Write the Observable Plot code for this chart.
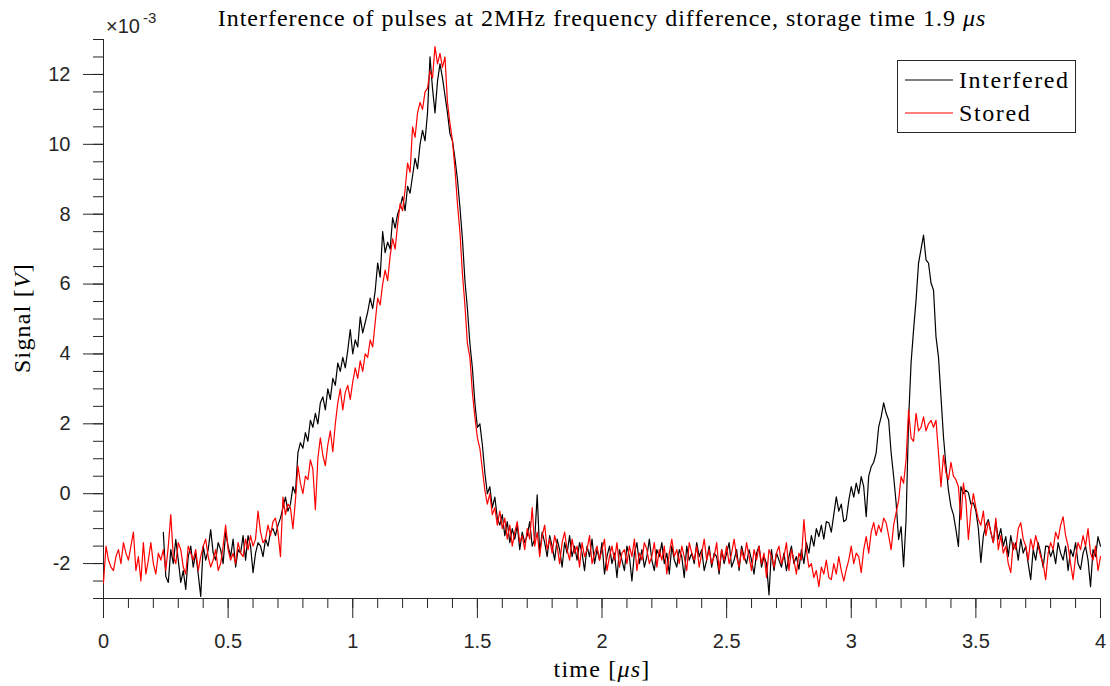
<!DOCTYPE html>
<html>
<head>
<meta charset="utf-8">
<script src="https://cdn.jsdelivr.net/npm/d3@7"></script>
<script src="https://cdn.jsdelivr.net/npm/@observablehq/plot@0.6"></script>
<style>
  body { margin: 0; background: #fff; }
  #chart { width: 1110px; height: 686px; }
</style>
</head>
<body>
<div id="chart"></div>
<script>
// ---- chart data (signal in units of 1e-3 V, time in microseconds) ----
const titleText = "Interference of pulses at 2MHz frequency difference, storage time 1.9 ";
const seriesNames = ["Interfered", "Stored"];
const seriesColors = ["#000000", "#ff0000"];
const sampleStep = 0.01;
const interferedStart = 0.24;
const storedStart = 0.0;

const xMajorTicks = [0, 0.5, 1, 1.5, 2, 2.5, 3, 3.5, 4];
const xTickLabels = ["0", "0.5", "1", "1.5", "2", "2.5", "3", "3.5", "4"];
const yMajorTicks = [-2, 0, 2, 4, 6, 8, 10, 12];
const yTickLabels = ["-2", "0", "2", "4", "6", "8", "10", "12"];

const interfered = [
  -1.11, -2.37, -2.54, -1.6, -2.0, -1.31,
  -1.9, -2.54, -2.2, -2.74, -1.8, -1.5, -2.1, -1.7, -2.3, -2.94,
  -1.5, -1.9, -1.6, -1.03, -1.7, -1.9, -1.4, -1.6, -2.0, -1.1,
  -1.5, -1.8, -1.3, -2.1, -1.6, -1.7, -1.2, -1.9, -1.2, -1.5,
  -2.26, -1.7, -1.4, -1.5, -1.8, -1.3, -1.5, -1.1, -1.0, -1.2,
  -0.9, -0.7, -0.4, -0.1, -0.5, -0.3, 0.2, 0.0, 1.17, 1.46,
  1.3, 1.75, 1.5, 2.1, 1.9, 2.3, 2.0, 2.6, 2.77, 2.4,
  3.0, 2.7, 3.3, 3.1, 3.74, 3.5, 3.9, 3.6, 4.1, 4.7,
  4.0, 4.4, 4.2, 5.06, 4.6, 4.9, 5.2, 5.6, 5.3, 5.8,
  6.6, 6.2, 7.5, 6.9, 7.2, 7.0, 7.9, 7.6, 8.0, 8.2,
  8.5, 8.1, 8.8, 8.6, 9.1, 9.6, 9.3, 10.0, 10.4, 10.1,
  10.9, 12.5, 11.6, 10.9, 11.8, 12.3, 11.9, 11.4, 10.9, 10.3,
  10.1, 9.6, 9.0, 8.2, 7.3, 6.1, 5.3, 4.3, 3.6, 2.6,
  1.9, 2.0, 1.4, 0.6, 0.0, 0.2, -0.4, -0.1, -0.7, -0.9,
  -0.6, -1.2, -0.8, -1.4, -1.0, -1.3, -0.9, -1.6, -1.1, -1.4,
  -1.2, -0.8, -1.5, -1.3, -0.03, -1.7, -1.1, -1.4, -1.8, -1.2,
  -1.5, -1.9, -1.3, -1.6, -2.1, -1.4, -1.7, -1.2, -1.8, -1.5,
  -1.9, -1.4, -1.7, -2.2, -1.5, -1.8, -1.3, -2.0, -1.6, -1.9,
  -1.4, -2.3, -1.8, -1.5, -2.0, -1.7, -2.4, -1.6, -1.9, -2.2,
  -1.5, -1.8, -2.5, -1.7, -1.4, -2.0, -1.6, -2.1, -1.8, -1.3,
  -1.9, -2.2, -1.6, -1.8, -1.4, -2.0, -1.7, -2.3, -1.5, -1.9,
  -2.1, -1.6, -1.8, -2.4, -1.5, -1.9, -1.7, -2.0, -1.4, -1.8,
  -1.6, -2.2, -1.9, -1.5, -2.1, -1.7, -1.8, -2.3, -1.6, -2.0,
  -1.7, -1.4, -2.1, -1.9, -1.6, -2.2, -1.5, -1.8, -2.0, -1.6,
  -1.9, -2.3, -1.7, -1.5, -2.1, -1.8, -2.0, -2.9, -1.6, -2.2,
  -1.69, -1.9, -2.1, -1.7, -2.2, -1.8, -1.5, -2.0, -1.8, -2.17,
  -1.6, -2.0, -1.4, -1.7, -1.2, -1.5, -1.0, -1.23, -0.9, -1.3,
  -0.8, -0.83, -1.1, -0.6, -0.09, -0.5, -0.3, -0.8, -0.74, -0.2,
  0.2, -0.1, 0.3, 0.0, 0.49, 0.2, -0.66, 0.5, 0.77, 0.9,
  1.17, 1.91, 2.2, 2.6, 2.3, 2.11, 1.17, 0.5, -0.26, -1.31,
  -0.94, -2.09, -0.74, 2.11, 3.74, 4.69, 5.54, 6.6, 7.0, 7.4,
  6.69, 6.6, 6.03, 5.83, 4.49, 3.91, 2.77, 1.63, 0.8, 0.1,
  -0.37, -0.6, -1.03, -1.51, 0.2, 0.0, 0.1, 0.03, -0.3, -0.26,
  -0.5, -1.0, -1.97, -1.2, -0.9, -0.74, -1.1, -1.4, -0.8, -1.3,
  -1.0, -1.5, -1.23, -1.8, -1.2, -1.6, -1.4, -1.9, -1.3, -1.7,
  -1.5, -2.0, -2.46, -1.6, -1.9, -1.4, -1.7, -2.1, -1.5, -1.51,
  -1.8, -1.6, -2.0, -1.4, -1.7, -1.9, -1.5, -2.2, -1.6, -1.8,
  -1.4, -2.0, -2.17, -1.7, -1.5, -1.9, -2.66, -1.6, -1.8, -1.23,
  -1.5
];

const stored = [
  -2.55, -1.5, -1.9, -2.1, -2.2, -1.8, -1.6, -2.0, -1.4, -1.7,
  -1.9, -1.5, -1.1, -2.2, -1.8, -2.5, -1.4, -2.3, -1.9, -1.4,
  -2.0, -2.3, -1.7, -1.9, -1.6, -2.2, -1.5, -0.6, -1.8, -2.0,
  -1.4, -1.6, -2.1, -2.3, -1.5, -1.7, -1.9, -1.6, -2.2, -1.8,
  -1.5, -1.3, -1.8, -2.1, -1.9, -1.6, -2.2, -2.0, -1.5, -0.9,
  -1.6, -1.9, -1.7, -2.0, -1.4, -1.7, -1.8, -1.3, -1.6, -1.2,
  -1.5, -1.3, -0.5, -1.1, -1.4, -1.3, -0.9, -1.2, -0.8, -0.7,
  -1.1, -1.8, -0.1, -0.6, -0.3, -0.4, -1.0, -0.2, 0.8, 0.3,
  0.0, 0.5, 0.4, 0.97, 0.7, -0.46, 1.0, 1.6, 1.1, 0.8,
  1.4, 1.8, 1.2, 2.0, 2.6, 3.0, 2.4, 2.9, 3.1, 2.7,
  3.2, 3.6, 3.3, 3.8, 3.5, 4.0, 3.9, 4.4, 4.2, 4.9,
  5.6, 5.4, 6.0, 6.4, 6.1, 6.8, 7.3, 7.0, 7.7, 8.3,
  8.1, 8.7, 9.46, 9.2, 10.5, 10.2, 10.9, 11.2, 11.0, 11.5,
  11.6, 12.1, 11.9, 12.8, 12.3, 12.6, 12.2, 12.5, 11.2, 10.6,
  10.1, 9.3, 8.3, 7.5, 6.3, 5.4, 4.3, 3.9, 2.9, 2.2,
  1.6, 1.3, 0.7, 0.1, -0.3, 0.0, -0.6, -0.4, -0.9, -0.5,
  -1.0, -0.7, -1.3, -0.9, -1.5, -1.1, -0.8, -1.4, -1.2, -1.6,
  -1.0, -1.3, -0.4, -1.5, -1.1, -1.8, -1.2, -0.9, -1.6, -1.3,
  -1.7, -1.2, -1.5, -2.0, -1.4, -1.1, -1.6, -1.9, -1.3, -1.7,
  -1.5, -2.1, -1.4, -1.8, -1.6, -1.2, -2.0, -1.7, -1.5, -1.9,
  -1.6, -1.3, -2.2, -1.8, -1.5, -1.9, -1.4, -2.1, -1.7, -1.6,
  -2.0, -1.5, -1.8, -1.3, -2.2, -1.7, -1.9, -1.4, -1.6, -2.0,
  -1.8, -1.4, -2.1, -1.6, -1.9, -1.5, -2.3, -1.7, -1.3, -1.8,
  -1.6, -2.0, -1.5, -1.8, -2.2, -1.4, -1.7, -1.9, -1.5, -2.1,
  -1.7, -1.3, -1.9, -1.6, -2.0, -1.8, -1.4, -2.2, -1.6, -1.9,
  -1.5, -2.0, -1.7, -1.3, -1.8, -2.1, -1.6, -1.9, -1.4, -1.8,
  -2.2, -1.6, -1.9, -1.5, -2.0, -1.7, -2.4, -1.6, -1.8, -2.1,
  -1.7, -1.5, -2.0, -1.8, -1.4, -2.2, -1.6, -1.9, -2.3, -1.7,
  -1.9, -0.74, -1.6, -2.1, -2.0, -2.4, -2.2, -2.66, -2.1, -2.3,
  -1.9, -2.4, -2.46, -2.0, -2.3, -1.8, -2.2, -2.5, -2.17, -1.9,
  -1.5, -2.0, -1.7, -1.8, -2.26, -1.6, -1.23, -1.7, -1.1, -0.83,
  -1.2, -0.9, -1.1, -0.7, -0.83, -1.2, -1.6, -0.9, -0.54, -0.2,
  0.49, 0.3, 0.97, 2.4, 1.6, 1.5, 2.3, 1.8, 1.9, 2.2,
  1.8, 2.0, 2.1, 1.9, 2.1, 1.17, 0.2, 1.1, 0.6, 0.4,
  0.9, 0.5, 0.4, 0.2, -0.74, 0.3, -0.2, -1.31, -0.5, 0.0,
  -0.4, -0.74, -0.9, -0.5, -1.2, -0.8, -1.1, -1.4, -0.7, -1.6,
  -1.2, -1.7, -1.5, -2.0, -2.26, -1.4, -1.6, -1.0, -0.83, -1.3,
  -1.5, -1.9, -1.3, -1.6, -1.2, -1.5, -1.8, -2.0, -2.46, -1.7,
  -1.4, -1.6, -1.1, -1.3, -0.9, -0.66, -1.2, -1.5, -2.0, -2.46,
  -1.8, -1.4, -1.6, -1.2, -1.5, -1.0, -1.7, -1.9, -1.5, -2.2,
  -1.8
];

// ---- build tables for Plot ----
const toRows = (values, start) => values.map((v, i) => ({ t: +(start + i * sampleStep).toFixed(4), v }));
const interferedRows = toRows(interfered, interferedStart);
const storedRows = toRows(stored, storedStart);
const xMinorTicks = d3.range(0, 41).map(i => i / 10);
const yMinorTicks = d3.range(-6, 27).map(i => i / 2);

const axisColor = "#262626";
const sans = "'Liberation Sans', Arial, Helvetica, sans-serif";
const serif = "'Liberation Serif', 'Times New Roman', serif";

const plot = Plot.plot({
  width: 1110,
  height: 686,
  marginLeft: 103,
  marginRight: 10,
  marginTop: 39,
  marginBottom: 88,
  x: { domain: [0, 4] },
  y: { domain: [-3, 13] },
  style: { background: "#ffffff", color: axisColor, fontFamily: sans, fontSize: "20px", overflow: "visible" },
  marks: [
    Plot.axisX(xMinorTicks, { anchor: "bottom", tickSize: 10, tickFormat: () => "", label: null }),
    Plot.axisX(xMajorTicks, { anchor: "bottom", tickSize: 20, tickPadding: 15, fontSize: 20, label: null,
      tickFormat: d => xTickLabels[xMajorTicks.indexOf(d)] }),
    Plot.axisY(yMinorTicks, { anchor: "left", tickSize: 10, tickFormat: () => "", label: null }),
    Plot.axisY(yMajorTicks, { anchor: "left", tickSize: 20, tickPadding: 13, fontSize: 20, label: null,
      tickFormat: d => yTickLabels[yMajorTicks.indexOf(d)] }),
    Plot.ruleX([0], { stroke: axisColor, strokeWidth: 1 }),
    Plot.ruleY([-3], { stroke: axisColor, strokeWidth: 1 }),
    Plot.line(interferedRows, { x: "t", y: "v", stroke: seriesColors[0], strokeWidth: 1.2 }),
    Plot.line(storedRows, { x: "t", y: "v", stroke: seriesColors[1], strokeWidth: 1.2 })
  ]
});

const svg = d3.select(plot);

// title
const title = svg.append("text")
  .attr("x", 602).attr("y", 26).attr("text-anchor", "middle")
  .style("font-family", serif).style("font-size", "24px").style("letter-spacing", "1px").attr("fill", "#000");
title.append("tspan").text(titleText);
title.append("tspan").style("font-style", "italic").text("μs");

// exponent label
const expo = svg.append("text")
  .attr("x", 106).attr("y", 33).attr("text-anchor", "start")
  .style("font-family", sans).style("font-size", "20px").attr("fill", axisColor);
expo.append("tspan").text("×10");
expo.append("tspan").attr("dx", 3).attr("dy", -10).style("font-size", "15px").text("-3");

// y label
const ylab = svg.append("text")
  .attr("transform", "translate(30,318) rotate(-90)").attr("text-anchor", "middle")
  .style("font-family", serif).style("font-size", "24px").style("letter-spacing", "1.2px").attr("fill", "#000");
ylab.append("tspan").text("Signal [");
ylab.append("tspan").style("font-style", "italic").text("V");
ylab.append("tspan").text("]");

// x label
const xlab = svg.append("text")
  .attr("x", 602).attr("y", 677).attr("text-anchor", "middle")
  .style("font-family", serif).style("font-size", "24px").style("letter-spacing", "1.2px").attr("fill", "#000");
xlab.append("tspan").text("time [");
xlab.append("tspan").style("font-style", "italic").text("μs");
xlab.append("tspan").text("]");

// legend
const legend = svg.append("g");
legend.append("rect")
  .attr("x", 897.5).attr("y", 60.5).attr("width", 178).attr("height", 72)
  .attr("fill", "#fff").attr("stroke", axisColor).attr("stroke-width", 1);
const rowsY = [80, 113];
seriesNames.forEach((name, i) => {
  legend.append("line")
    .attr("x1", 905).attr("x2", 953).attr("y1", rowsY[i]).attr("y2", rowsY[i])
    .attr("stroke", seriesColors[i]).attr("stroke-width", 1.2);
  legend.append("text")
    .attr("x", 959).attr("y", rowsY[i] + 7.5).attr("text-anchor", "start")
    .style("font-family", serif).style("font-size", "24px").style("letter-spacing", "1.6px")
    .attr("fill", "#000").text(name);
});

document.getElementById("chart").appendChild(plot);
</script>
</body>
</html>
